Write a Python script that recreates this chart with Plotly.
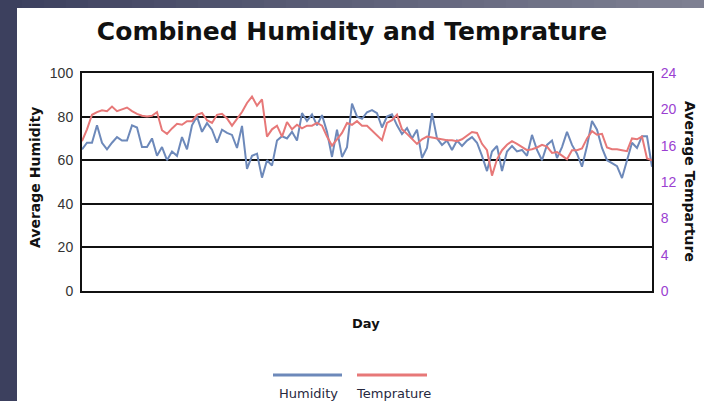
import plotly.graph_objects as go

# Daily averages
days = list(range(1, 116))
humidity = [
    65, 68, 68, 76, 68, 65, 68, 70.6, 69, 69,
    76, 75, 66, 66, 70, 62, 66, 60, 64, 62,
    70.6, 65, 76, 80, 73, 77, 74, 68, 74, 72.5,
    71.6, 65.6, 75.7, 56, 62, 63, 52, 60, 57.5, 69,
    71, 70, 73, 69, 81.6, 78, 81, 76, 80.7, 73,
    61.5, 74, 61.5, 66, 86, 80, 79, 82, 83, 81.6,
    75, 80, 81, 76, 72, 74.7, 70, 74, 61, 65.6,
    81.6, 70, 67, 69, 64.7, 69, 66.5, 69, 70.6, 68,
    62, 55, 64, 66.5, 55, 64, 66.5, 64, 64.7, 62,
    71.6, 64.7, 60, 67, 69, 61, 66, 73, 67, 63,
    57, 66.5, 78, 74, 65.6, 60, 58.7, 57.3, 51.8, 60,
    68, 65.6, 71, 71, 57,
]
temperature = [
    16.5, 17.8, 19.4, 19.7, 19.9, 19.8, 20.3, 19.8, 20.0, 20.2,
    19.8, 19.5, 19.3, 19.2, 19.3, 19.7, 17.7, 17.3, 17.9, 18.4,
    18.3, 18.7, 18.7, 19.4, 19.6, 18.8, 18.5, 19.4, 19.5, 19.0,
    18.2, 19.0, 19.7, 20.7, 21.4, 20.4, 21.1, 17.0, 17.8, 18.2,
    17.0, 18.6, 17.8, 18.3, 17.9, 18.2, 18.2, 18.5, 18.2, 17.0,
    16.0, 16.7, 17.4, 18.5, 18.3, 18.7, 18.2, 18.2, 17.7, 17.1,
    16.6, 18.5, 18.8, 19.4, 17.8, 17.3, 16.7, 16.2, 16.7, 17.0,
    16.9, 16.8, 16.7, 16.6, 16.6, 16.5, 16.7, 17.1, 17.5, 17.4,
    16.2, 15.5, 12.7, 14.5, 15.5, 16.1, 16.5, 16.2, 15.8, 15.5,
    15.6, 15.8, 16.1, 15.9, 15.2, 15.3, 14.9, 14.5, 15.5, 15.5,
    15.7, 16.8, 17.6, 17.2, 17.3, 15.8, 15.6, 15.6, 15.5, 15.4,
    16.8, 16.7, 17.0, 14.6, 14.4,
]
humidity_ticks = [0, 20, 40, 60, 80, 100]
temperature_ticks = [0, 4, 8, 12, 16, 20, 24]

HUM_COLOR = "#6d89ba"
TEMP_COLOR = "#e77878"
TITLE_FONT = "DejaVu Sans"
TICK_FONT = "Liberation Sans"

W, H = 704, 401
L, R, T, B = 82, 52, 73, 110
pw, ph = W - L - R, H - T - B


def px(x):
    return (x - L) / pw


def py(y):
    return (H - B - y) / ph


fig = go.Figure()
fig.add_trace(go.Scatter(x=days, y=humidity, mode="lines", name="Humidity",
                         line=dict(color=HUM_COLOR, width=2), yaxis="y"))
fig.add_trace(go.Scatter(x=days, y=temperature, mode="lines", name="Temprature",
                         line=dict(color=TEMP_COLOR, width=2), yaxis="y2"))

shapes = []
# slide frame: dark strip down the left, graded band across the top
shapes.append(dict(type="rect", xref="paper", yref="paper", layer="below",
                   x0=px(0), x1=px(17), y0=py(H), y1=py(0),
                   fillcolor="#3c405e", line=dict(width=0)))
steps = 32
c0, c1 = (0x3c, 0x40, 0x5e), (0x7e, 0x80, 0x92)
for i in range(steps):
    f = i / (steps - 1)
    col = "rgb(%d,%d,%d)" % tuple(round(a + (b - a) * f) for a, b in zip(c0, c1))
    shapes.append(dict(type="rect", xref="paper", yref="paper", layer="below",
                       x0=px(W * i / steps), x1=px(W * (i + 1) / steps + 1),
                       y0=py(8), y1=py(0), fillcolor=col, line=dict(width=0)))
# legend swatches
shapes.append(dict(type="line", xref="paper", yref="paper",
                   x0=px(273), x1=px(342), y0=py(375), y1=py(375),
                   line=dict(color=HUM_COLOR, width=3)))
shapes.append(dict(type="line", xref="paper", yref="paper",
                   x0=px(357), x1=px(427), y0=py(375), y1=py(375),
                   line=dict(color=TEMP_COLOR, width=3)))


def label(text, x, y, size, angle=0, color="#111111"):
    return dict(text=text, xref="paper", yref="paper", x=px(x), y=py(y),
                xanchor="center", yanchor="middle", textangle=angle,
                showarrow=False, font=dict(family=TITLE_FONT, size=size, color=color))


annotations = [
    label("<b>Average Humidity</b>", 35, 177, 14, -90),
    label("<b>Average Temparture</b>", 690, 181, 14, 90),
    label("<b>Day</b>", 366, 323, 13),
    label("Humidity", 308, 393, 13, color="#26283e"),
    label("Temprature", 393, 393, 13, color="#26283e"),
]

fig.update_layout(
    width=W, height=H,
    margin=dict(l=L, r=R, t=T, b=B),
    paper_bgcolor="white", plot_bgcolor="white",
    showlegend=False,
    title=dict(text="<b>Combined Humidity and Temprature</b>",
               x=0.5, xref="container", xanchor="center",
               y=1 - 31 / H, yref="container", yanchor="middle",
               font=dict(family=TITLE_FONT, size=25, color="#111111")),
    xaxis=dict(range=[1, 115], showticklabels=False, ticks="",
               showgrid=False, zeroline=False,
               showline=True, linecolor="#111111", linewidth=2, mirror=True),
    yaxis=dict(range=[0, 100], tickvals=humidity_ticks,
               showgrid=True, gridcolor="#111111", gridwidth=2,
               zeroline=False, showline=True, linecolor="#111111", linewidth=2,
               ticks="", ticklabelstandoff=4,
               tickfont=dict(family=TICK_FONT, size=14, color="#333333")),
    yaxis2=dict(range=[0, 24], tickvals=temperature_ticks, overlaying="y",
                side="right", showgrid=False, zeroline=False,
                showline=True, linecolor="#111111", linewidth=2, ticks="",
                ticklabelstandoff=4,
                tickfont=dict(family=TICK_FONT, size=14, color="#9b3fd1")),
    shapes=shapes,
    annotations=annotations,
)

fig.write_html("out.html")
